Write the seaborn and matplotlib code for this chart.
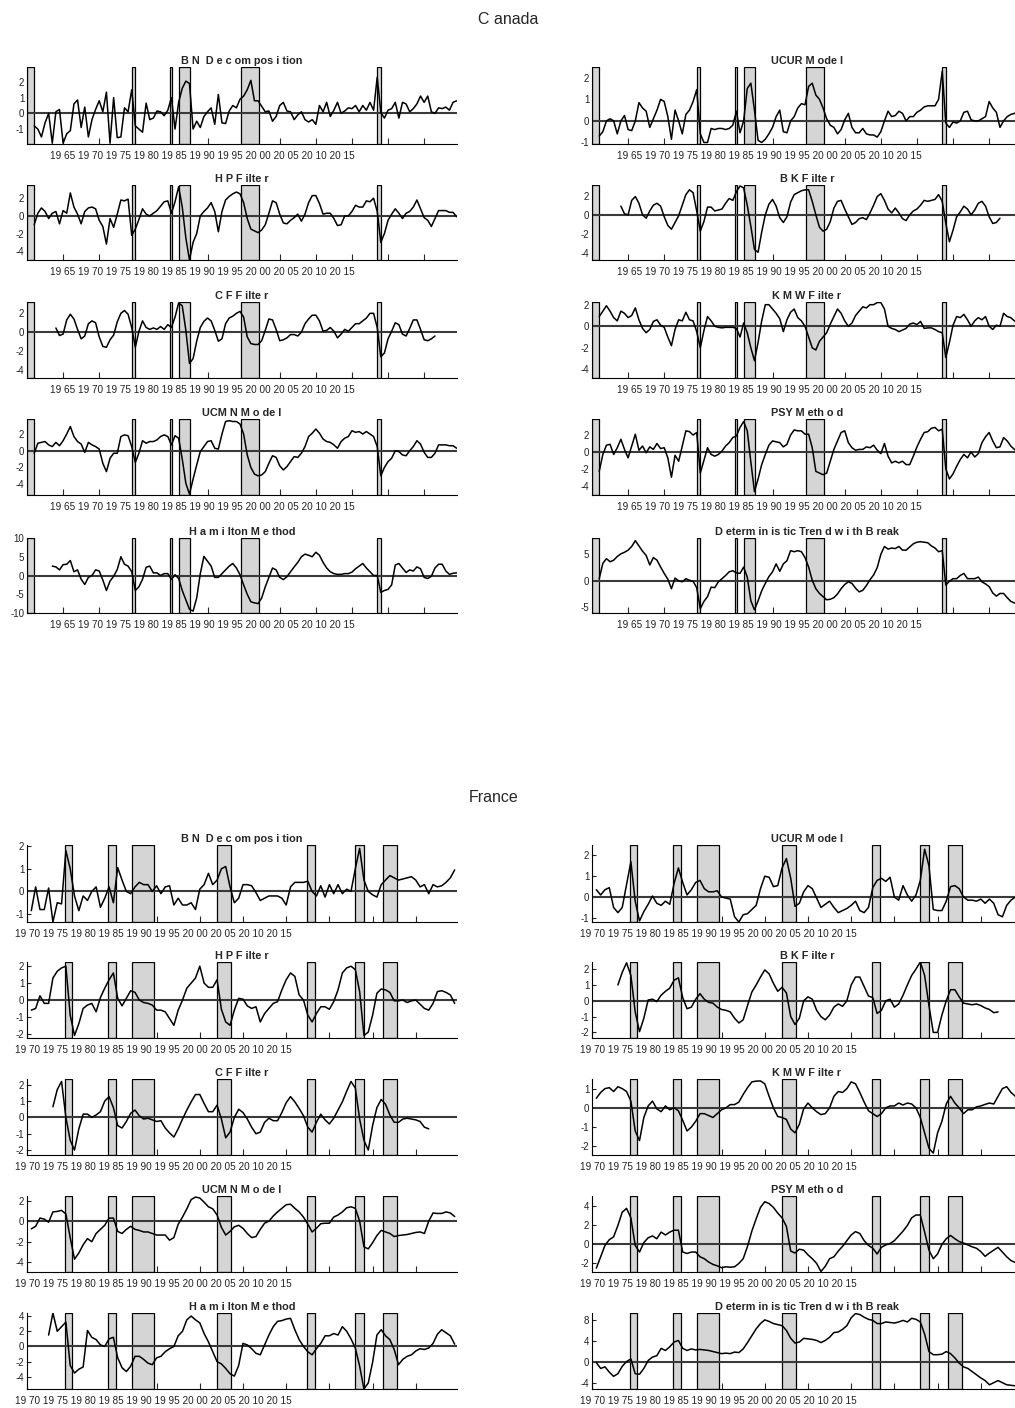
import numpy as np
import pandas as pd
import seaborn as sns
import matplotlib
matplotlib.use('Agg')
import matplotlib.pyplot as plt

nan = np.nan

# half-year grids
ca_years = np.arange(1961.0, 2020.0, 0.5)
fr_years = np.arange(1970.5, 2020.0, 0.5)
ca_ticks = list(range(1965, 2016, 5))
fr_ticks = list(range(1970, 2016, 5))
ca_xtext = '19 65 19 70 19 75 19 80 19 85 19 90 19 95 20 00 20 05 20 10 20 15'
fr_xtext = '19 70 19 75 19 80 19 85 19 90 19 95 20 00 20 05 20 10 20 15'

# recession bands (start, end)
ca_rec = [(1960.0, 1961.0), (1974.6, 1974.9), (1979.8, 1980.1),
          (1981.05, 1982.6), (1989.7, 1992.1), (2008.5, 2009.0)]
fr_rec = [(1974.45, 1975.25), (1979.4, 1980.25), (1982.2, 1984.75),
          (1992.0, 1993.6), (2002.4, 2003.35), (2007.95, 2009.0), (2011.25, 2012.8)]

# ---------------- Canada ----------------
ca_bn = [-0.8, -1.0, -1.5, -0.6, 0.0, -1.9, 0.1, 0.25, -1.9, -1.3,
         -1.1, 0.6, 0.85, -0.9, 0.4, -1.5, -0.4, 0.25, 0.8, 0.1,
         1.35, -1.9, 1.0, -1.55, -1.5, 0.35, 0.1, 1.5, -0.8, -1.0,
         -1.2, 0.65, -0.4, -0.3, 0.15, 0.1, -0.15, 0.2, 1.0, -1.0,
         0.7, 1.6, 2.05, 1.9, -1.0, -0.5, -0.9, -0.2, 0.1, 0.35,
         -0.7, 1.2, -0.6, -0.65, 0.15, 0.5, 0.35, 0.9, 1.1, 1.5,
         2.1, 0.8, 0.8, 0.45, 0.1, 0.15, -0.5, -0.2, 0.5, 0.7,
         0.15, 0.1, -0.4, -0.1, 0.1, -0.4, -0.55, -0.4, -0.7, 0.5,
         0.1, 0.7, -0.2, 0.2, 0.7, 0.0, 0.15, 0.35, 0.3, 0.5,
         0.1, 0.5, 0.2, 0.7, 0.2, 2.3, 0.05, -0.3, 0.2, 0.3,
         0.7, -0.3, 0.7, 0.6, 0.1, 0.3, 0.6, 1.1, 0.7, 1.1,
         0.1, 0.0, 0.35, 0.3, 0.4, 0.2, 0.7, 0.8]

ca_ucur = [-0.7, -0.5, 0.0, 0.1, 0.0, -0.6, 0.0, 0.25, -0.4, -0.45,
           0.0, 0.85, 0.6, 0.45, -0.3, 0.1, 0.5, 1.0, 0.9, 0.2,
           -0.85, 0.5, 0.0, -0.6, 0.3, 0.5, 0.9, 1.45, -0.6, -1.0,
           -1.0, -0.35, -0.4, -0.35, -0.35, -0.4, -0.35, -0.2, 0.45, -0.55,
           0.0, 1.5, 1.75, 0.5, -0.9, -1.0, -0.85, -0.6, -0.3, 0.2,
           0.5, -0.5, -0.55, 0.0, 0.2, 0.6, 0.8, 0.75, 1.6, 1.75,
           1.2, 1.0, 0.6, 0.1, -0.2, -0.3, -0.6, -0.4, 0.05, 0.35,
           -0.3, -0.55, -0.55, -0.35, -0.6, -0.65, -0.65, -0.75, -0.5, 0.0,
           0.45, 0.2, 0.25, 0.45, 0.35, 0.0, 0.2, 0.2, 0.4, 0.5,
           0.65, 0.7, 0.7, 0.7, 1.0, 2.3, -0.1, -0.3, -0.05, -0.1,
           0.0, 0.4, 0.45, 0.05, 0.0, 0.0, 0.1, 0.2, 0.9, 0.6,
           0.4, -0.3, 0.0, 0.2, 0.3, 0.35, 0.4, 0.45]

ca_hp = [-1.0, 0.3, 0.9, 0.5, -0.3, 0.3, 0.5, -0.9, 0.6, 0.3,
         2.6, 1.0, 0.2, -0.9, 0.5, 0.9, 1.0, 0.8, -0.5, -1.2,
         -3.2, -0.3, -1.3, 0.2, 1.8, 1.7, 1.9, -2.2, -1.5, -0.4,
         0.8, 0.2, 0.0, 0.3, 0.6, 1.1, 1.6, 1.7, 0.3, 1.6,
         3.3, 1.0, -2.5, -5.0, -3.0, -2.0, 0.0, 0.5, 0.9, 1.5,
         0.5, -1.8, 0.5, 1.8, 2.2, 2.5, 2.7, 2.5, 1.5, -0.3,
         -1.5, -1.7, -1.9, -1.6, -1.0, 0.3, 1.7, 1.5, 0.2, -0.8,
         -0.9, -0.5, -0.2, 0.2, -0.6, 0.2, 1.5, 2.3, 2.3, 1.4,
         0.2, 0.3, 0.3, -0.3, -1.1, -1.0, 0.0, 0.0, 0.5, 1.2,
         1.0, 1.0, 1.7, 1.6, 2.0, 0.5, -3.0, -2.0, -0.5, 0.2,
         0.8, 0.3, -0.3, 0.3, 0.5, 1.0, 1.8, 0.8, -0.2, -0.5,
         -1.2, -0.3, 0.6, 0.6, 0.6, 0.4, 0.4, -0.1]

ca_bk = [nan] * 6 + [
         0.9, 0.1, 0.0, 1.5,
         1.9, 1.2, 0.0, -0.35, 0.4, 1.0, 1.2, 0.9, -0.2, -1.1,
         -1.5, -0.8, -0.1, 1.0, 2.1, 2.6, 2.3, 0.4, -1.7, -0.7,
         0.8, 0.8, 0.4, 0.5, 0.6, 1.2, 1.7, 1.5, 2.4, 3.0,
         2.8, 1.0, -1.2, -3.6, -3.9, -1.8, 0.0, 1.1, 1.6, 0.9,
         -0.3, -0.8, -0.2, 1.3, 2.1, 2.3, 2.5, 2.6, 2.6, 1.4,
         0.0, -1.3, -1.7, -1.5, -0.7, 0.7, 1.4, 1.5, 0.6, -0.2,
         -1.0, -0.8, -0.4, -0.3, -0.5, 0.2, 1.0, 1.9, 2.2, 1.5,
         0.6, 0.2, 0.7, 0.2, -0.4, -0.6, 0.0, 0.4, 0.6, 1.0,
         1.5, 1.4, 1.5, 1.6, 2.1, 1.4, -0.9, -2.8, -1.6, -0.2,
         0.3, 0.9, 0.6, 0.0, 0.5, 1.2, 1.4, 0.9, -0.2, -0.9,
         -0.8, -0.35] + [nan] * 6

ca_cf = [nan] * 6 + [
         0.45, -0.35, -0.2, 1.3,
         1.9, 1.4, 0.3, -0.7, -0.4, 0.9, 1.2, 1.0, -0.5, -1.5,
         -1.6, -0.8, -0.3, 1.1, 2.0, 2.3, 1.9, 0.5, -1.6, 0.1,
         1.2, 0.5, 0.3, 0.45, 0.3, 0.6, 0.3, 0.8, 0.5, 1.6,
         3.1, 2.8, 0.2, -3.3, -2.8, -0.95, 0.5, 1.15, 1.5, 1.2,
         0.2, -0.95, -0.7, 0.9, 1.5, 1.7, 2.0, 2.2, 1.6, -0.5,
         -1.2, -1.3, -1.3, -0.9, 0.2, 1.4, 1.3, 0.3, -0.9, -0.8,
         -0.6, -0.25, -0.25, -0.4, 0.0, 0.9, 1.4, 1.8, 1.8, 1.2,
         0.1, 0.2, 0.5, 0.1, -0.6, -0.2, 0.3, 0.1, 0.5, 0.9,
         0.9, 1.2, 1.5, 2.0, 2.0, 0.5, -2.6, -2.2, -0.7, 0.1,
         1.0, 0.8, -0.2, -0.4, 0.4, 1.3, 1.3, 0.3, -0.8, -0.9,
         -0.7, -0.4] + [nan] * 6

ca_kmw = [0.9, 1.4, 1.9, 1.4, 0.8, 0.5, 1.4, 1.2, 0.8, 1.0,
          1.7, 0.6, -0.2, -0.6, -0.3, 0.45, 0.6, 0.1, -0.1, -1.0,
          -1.8, -0.3, 0.6, 0.5, 1.3, 0.6, 0.5, -0.5, -2.0, -0.4,
          0.9, 0.5, 0.0, -0.1, -0.15, -0.1, -0.1, -0.1, -0.2, -1.0,
          0.3, -0.6, -2.0, -3.2, -1.5, 0.5, 2.0, 2.0, 1.6, 1.2,
          0.7, -0.5, 0.6, 1.3, 1.6, 0.8, 0.5, 0.0, -1.0, -2.0,
          -2.2, -1.4, -1.0, -0.6, 0.2, 0.9, 1.6, 1.2, 0.5, 0.0,
          0.3, 1.0, 1.4, 1.8, 1.7, 2.0, 2.0, 2.2, 2.2, 1.6,
          0.0, -0.2, -0.3, -0.5, -0.35, -0.2, 0.2, 0.3, 0.15, 0.45,
          -0.2, -0.15, -0.15, -0.3, -0.5, -0.6, -2.9, -1.5, 0.1, 0.9,
          0.8, 1.1, 0.6, 0.0, 0.5, 0.8, 0.6, 0.9, 0.0, -0.3,
          0.1, 0.0, 1.2, 0.9, 0.8, 0.5, 0.3, 0.2]

ca_ucmn = [-0.3, 0.9, 1.0, 1.1, 0.7, 0.5, 1.0, 0.6, 1.2, 2.0,
           2.9, 1.7, 1.1, 0.8, -0.2, 1.0, 0.7, 0.5, 0.2, -1.5,
           -2.5, -0.9, -0.3, -0.3, 1.7, 1.9, 1.8, 0.5, -1.4, -0.3,
           1.2, 0.9, 1.1, 1.1, 1.3, 1.7, 1.9, 1.7, 0.7, 1.8,
           1.5, -1.0, -3.9, -5.2, -3.4, -1.7, -0.1, 0.5, 1.1, 1.2,
           0.3, 0.2, 2.0, 3.5, 3.6, 3.5, 3.5, 3.2, 2.0, -0.5,
           -2.0, -2.8, -3.0, -2.9, -2.5, -1.5, -0.6, -0.8, -1.8, -2.3,
           -1.9, -1.3, -0.7, -0.8, -0.3, 0.5, 1.7, 2.1, 2.6, 2.1,
           1.4, 1.1, 1.0, 0.7, 0.3, 1.1, 1.5, 1.7, 2.4, 2.2,
           2.3, 2.0, 2.3, 2.0, 1.7, 0.5, -3.0, -2.0, -1.3, -0.9,
           0.0, -0.1, -0.5, -0.6, 0.0, 0.5, 1.2, 0.8, -0.2, -0.8,
           -0.8, -0.3, 0.7, 0.7, 0.7, 0.6, 0.6, 0.3]

ca_psy = [-2.3, -0.3, 0.8, 0.9, -0.3, 0.5, 1.5, 0.3, -0.7, 0.7,
          2.1, 0.2, 0.7, -0.1, 0.6, 0.3, 1.0, 0.4, 0.5, -0.7,
          -3.0, -0.4, -1.1, 0.7, 2.5, 2.4, 2.0, 2.3, -2.5, -1.0,
          0.5, -0.3, -0.5, -0.3, 0.1, 0.7, 1.1, 1.7, 1.9, 2.9,
          3.6, 2.5, -1.2, -4.7, -3.2, -1.5, -0.3, 0.8, 1.3, 1.2,
          1.1, 0.6, 0.9, 2.0, 2.6, 2.5, 2.5, 2.1, 2.1, 0.5,
          -2.3, -2.5, -2.7, -2.5, -1.1, 0.3, 1.3, 2.3, 2.5, 1.1,
          0.5, 0.2, 0.3, 0.3, 0.6, 0.5, 0.8, 0.2, -0.2, 1.0,
          -0.5, -1.3, -1.1, -1.3, -1.1, -1.5, -1.5, -0.5, 0.6, 1.5,
          2.3, 2.4, 2.8, 2.9, 2.5, 2.7, -2.0, -3.2, -2.6, -1.7,
          -0.9, -0.3, -0.7, 0.0, -0.6, -0.2, 1.1, 1.8, 2.3, 1.3,
          0.5, 0.6, 1.7, 1.3, 0.7, 0.3, 0.0, -0.2]

ca_ham = [nan] * 5 + [
          2.5, 2.3, 1.5, 2.9, 3.0,
          4.0, 1.0, 1.5, -1.0, -2.4, -0.5, 0.0, 1.5, 1.2, -1.2,
          -4.0, -1.5, -0.2, 1.6, 5.0, 3.0, 2.5, 1.0, -4.0, -3.0,
          -1.0, 2.2, 2.5, 0.7, 0.7, 0.0, 0.5, 0.5, -1.0, 0.2,
          -0.8, -4.0, -6.5, -9.0, -9.5, -6.0, 0.5, 5.1, 3.8, 2.5,
          -0.5, -0.5, 0.5, 1.5, 2.5, 3.2, 2.0, 0.2, -2.5, -5.0,
          -7.0, -7.3, -7.5, -6.0, -3.0, -0.5, 2.0, 1.5, -0.5, -1.1,
          -0.3, 1.0, 2.3, 3.5, 5.0, 5.7, 5.4, 5.0, 6.2, 5.4,
          3.5, 2.0, 1.0, 0.5, 0.3, 0.3, 0.5, 0.5, 0.9, 1.8,
          2.5, 3.2, 2.0, 1.0, 0.0, 0.0, -4.5, -4.0, -3.7, -2.5,
          2.8, 3.2, 2.0, 0.8, 1.5, 1.2, 2.3, 1.8, -0.5, -0.8,
          -0.2, 2.0, 3.0, 3.0, 1.2, 0.3, 0.6, 0.7]

ca_dt = [0.4, 3.3, 4.2, 3.6, 3.9, 4.6, 5.1, 5.4, 5.8, 6.5,
         7.6, 6.6, 5.6, 4.8, 3.0, 4.4, 3.9, 2.6, 1.4, 0.3,
         -1.5, 0.5, 0.0, -0.2, 0.4, 0.1, -0.1, -1.3, -5.3, -3.9,
         -3.0, -1.2, -1.3, -0.2, 0.4, 1.0, 1.7, 1.9, 1.5, 1.4,
         2.6, 0.7, -3.8, -5.5, -3.8, -1.9, -0.5, 0.8, 1.7, 3.2,
         1.8, 3.2, 3.8, 5.7, 5.5, 5.7, 5.5, 4.4, 2.6, 0.1,
         -1.5, -2.4, -3.0, -3.6, -3.5, -3.2, -2.5, -1.5, -0.7, -0.2,
         -0.5, -1.4, -2.1, -1.8, -0.9, 0.2, 1.1, 2.5, 5.0, 6.5,
         6.0, 6.2, 6.1, 6.5, 5.8, 5.8, 6.4, 7.0, 7.3, 7.4,
         7.3, 7.2, 6.6, 6.2, 5.5, 5.7, -0.8, -0.1, 0.4, 0.4,
         1.0, 1.4, 0.4, 0.4, 0.4, 0.7, -0.2, -0.6, -1.1, -2.3,
         -2.9, -2.4, -2.4, -3.2, -3.9, -4.2, -4.3, -4.4]

# ---------------- France ----------------
fr_bn = [-0.85, 0.2, -0.8, -0.8, 0.15, -1.35, -0.5, -0.55, 1.8, 1.0,
         -0.2, -0.85, -0.2, -0.4, 0.0, 0.2, -0.7, -0.3, 0.2, -0.5,
         1.05, 0.5, 0.0, -0.1, 0.2, 0.4, 0.3, 0.3, 0.0, 0.25,
         -0.1, 0.2, 0.25, -0.6, -0.3, -0.6, -0.6, -0.5, -0.8, 0.1,
         0.3, 0.8, 0.3, 0.5, 1.0, 1.1, 0.2, -0.5, -0.3, 0.3,
         0.3, 0.25, -0.05, -0.4, -0.3, -0.2, -0.2, -0.2, -0.3, -0.6,
         0.2, 0.4, 0.4, 0.4, 0.45, 0.0, -0.2, 0.25, -0.25, 0.3,
         -0.1, 0.3, -0.1, 0.1, 0.0, 1.0, 1.9, 0.5, 0.0, -0.15,
         -0.25, 0.3, 0.5, 0.7, 0.6, 0.5, 0.55, 0.6, 0.65, 0.5,
         0.2, 0.3, -0.1, 0.3, 0.2, 0.25, 0.4, 0.6, 0.95]

fr_ucur = [0.35, 0.1, 0.35, 0.45, -0.5, -0.75, -0.5, 0.6, 1.7, -0.2,
           -1.15, -0.7, -0.35, 0.05, -0.3, -0.4, -0.2, -0.35, 0.65, 1.4,
           0.7, 0.1, 0.35, 0.7, 0.8, 0.4, 0.25, 0.25, 0.3, 0.0,
           -0.05, -0.1, -0.95, -1.2, -0.85, -0.8, -0.6, -0.4, 0.4, 1.0,
           0.95, 0.5, 0.55, 1.4, 1.85, 0.9, -0.45, -0.3, 0.25, 0.55,
           0.4, -0.05, -0.5, -0.35, -0.2, -0.5, -0.75, -0.65, -0.55, -0.4,
           -0.2, -0.65, -0.75, -0.5, 0.45, 0.8, 0.9, 0.75, 0.95, 0.0,
           -0.15, 0.55, 0.1, -0.2, 0.1, 0.8, 2.3, 1.5, -0.6, -0.65,
           -0.65, -0.2, 0.5, 0.55, 0.4, 0.0, -0.15, -0.15, -0.2, -0.1,
           -0.3, -0.1, -0.3, -0.85, -0.95, -0.4, -0.15, 0.0, 0.0]

fr_hp = [-0.6, -0.5, 0.25, -0.2, -0.2, 1.3, 1.7, 1.9, 2.0, -0.9,
         -2.1, -1.4, -0.5, -0.3, -0.2, -0.7, 0.15, 0.7, 1.2, 1.6,
         0.1, -0.35, 0.1, 0.55, 0.45, 0.0, -0.15, -0.2, -0.3, -0.6,
         -0.6, -0.7, -1.1, -1.5, -0.6, 0.0, 0.7, 1.0, 1.3, 2.0,
         1.0, 0.75, 0.75, 1.2, -0.55, -1.3, -1.5, -0.6, 0.1, 0.05,
         -0.35, -0.5, -0.4, -1.3, -0.8, -0.5, -0.2, -0.1, 0.6, 1.2,
         1.6, 1.4, 0.3, 0.0, -0.9, -1.3, -0.8, -0.4, -0.4, -0.55,
         -0.1, 0.6, 1.6, 1.9, 2.0, 1.8, 0.5, -2.1, -1.9, -0.9,
         0.4, 0.65, 0.6, 0.45, -0.05, -0.05, 0.0, -0.15, -0.05, 0.0,
         -0.25, -0.5, -0.6, -0.2, 0.5, 0.55, 0.45, 0.3, -0.2]

fr_bk = [nan] * 5 + [
         1.0, 1.8, 2.4, 1.6, -0.7,
         -1.95, -1.1, 0.05, 0.1, -0.05, 0.35, 0.6, 0.8, 1.3, 1.45,
         0.2, -0.5, -0.4, 0.1, 0.45, 0.1, -0.1, -0.15, -0.4, -0.55,
         -0.6, -0.7, -1.1, -1.4, -1.2, -0.3, 0.55, 1.0, 1.5, 1.95,
         1.7, 1.1, 0.6, 0.85, 0.5, -1.0, -1.5, -1.1, 0.0, 0.25,
         0.1, -0.6, -1.0, -1.2, -0.9, -0.4, -0.2, -0.35, 0.0, 1.0,
         1.5, 1.5, 0.9, 0.3, 0.2, -0.8, -0.6, 0.0, 0.1, -0.4,
         -0.2, 0.35, 1.0, 1.6, 2.0, 2.45, 1.6, -0.3, -2.0, -2.0,
         -0.9, 0.0, 0.7, 0.7, 0.25, -0.15, -0.2, -0.25, -0.2, -0.3,
         -0.45, -0.55, -0.75, -0.7] + [nan] * 5

fr_cf = [nan] * 5 + [
         0.65, 1.7, 2.2, 0.0, -1.4,
         -2.0, -0.7, 0.2, 0.2, 0.0, 0.15, 0.35, 1.0, 1.27, 0.6,
         -0.5, -0.65, -0.25, 0.25, 0.45, 0.1, -0.1, -0.05, -0.15, -0.25,
         -0.2, -0.65, -0.95, -1.2, -0.7, -0.1, 0.45, 0.95, 1.4, 1.4,
         0.85, 0.35, 0.35, 0.75, -0.1, -1.25, -0.9, 0.0, 0.5, 0.3,
         -0.1, -0.6, -1.0, -0.9, -0.3, -0.05, -0.2, -0.2, 0.3, 0.9,
         1.27, 0.95, 0.55, 0.1, -0.6, -0.9, -0.3, 0.2, -0.15, -0.4,
         -0.05, 0.45, 0.95, 1.6, 2.2, 1.8, -0.1, -1.4, -2.0, -0.5,
         0.6, 1.1, 0.8, 0.15, -0.3, -0.3, -0.1, -0.05, -0.1, -0.15,
         -0.25, -0.6, -0.7] + [nan] * 6

fr_kmw = [0.5, 0.8, 1.0, 1.05, 0.85, 1.1, 1.0, 0.85, 0.35, -1.2,
          -1.7, -0.5, 0.1, 0.35, -0.05, -0.2, 0.1, -0.1, 0.0, -0.15,
          -0.65, -1.2, -1.0, -0.7, -0.3, -0.3, -0.4, -0.5, -0.3, -0.1,
          0.0, 0.17, 0.17, 0.3, 0.7, 1.05, 1.35, 1.39, 1.4, 1.25,
          0.6, 0.0, -0.45, -0.5, -0.6, -1.1, -1.3, -0.85, -0.05, 0.25,
          0.0, -0.2, -0.35, -0.3, 0.0, 0.6, 0.85, 0.8, 1.0, 1.35,
          1.25, 0.8, 0.3, -0.15, -0.3, -0.45, -0.3, 0.0, 0.1, 0.1,
          0.25, 0.15, 0.25, 0.2, 0.0, -0.5, -1.3, -2.1, -2.35, -1.3,
          -0.7, 0.2, 0.6, 0.25, 0.0, -0.3, -0.1, -0.1, 0.05, 0.1,
          0.18, 0.25, 0.2, 0.6, 1.0, 1.1, 0.8, 0.6, 0.5]

fr_ucmn = [-0.75, -0.5, 0.3, 0.2, -0.1, 0.9, 0.95, 1.05, 0.7, -1.6,
           -3.7, -3.1, -2.3, -1.7, -2.0, -1.2, -0.8, -0.4, 0.3, 0.3,
           -1.0, -1.2, -0.8, -0.5, -0.8, -0.9, -1.05, -1.05, -1.2, -1.35,
           -1.35, -1.35, -1.85, -1.6, -0.3, 0.4, 1.2, 2.1, 2.35, 2.25,
           1.85, 1.4, 1.2, 0.6, -0.6, -1.35, -1.0, -0.55, -0.4, -0.7,
           -1.2, -1.6, -1.5, -0.8, -0.2, 0.0, 0.5, 0.9, 1.25, 1.6,
           1.65, 1.25, 0.9, 0.4, -0.3, -1.05, -0.7, -0.25, -0.2, -0.2,
           0.4, 0.6, 0.9, 1.3, 1.4, 1.25, 0.0, -2.5, -2.7, -2.1,
           -1.4, -0.9, -1.05, -1.2, -1.5, -1.4, -1.35, -1.3, -1.2, -1.1,
           -1.05, -1.2, 0.0, 0.8, 0.75, 0.75, 0.9, 0.8, 0.45]

fr_psy = [-2.5, -1.3, -0.1, 0.5, 0.8, 2.0, 3.4, 3.8, 2.8, -0.1,
          -0.8, 0.2, 0.7, 0.9, 0.6, 1.3, 1.0, 1.3, 1.5, 1.5,
          -0.8, -0.95, -0.8, -0.8, -1.3, -1.5, -1.85, -2.1, -2.25, -2.45,
          -2.35, -2.4, -2.35, -2.0, -1.5, -0.2, 1.4, 2.7, 3.9, 4.5,
          4.3, 3.9, 3.3, 2.8, 1.9, -0.7, -0.9, -0.5, -0.6, -1.1,
          -1.5, -2.0, -2.85, -2.3, -1.5, -1.3, -0.7, -0.2, 0.4, 1.0,
          1.35, 1.15, 0.4, -0.1, -0.4, -1.0, -0.3, -0.05, 0.1, 0.4,
          0.9, 1.4, 2.0, 2.8, 3.1, 3.1, 1.3, -0.6, -1.5, -1.0,
          0.0, 0.6, 0.95, 0.6, 0.3, 0.15, -0.05, -0.25, -0.4, -0.75,
          -1.25, -0.9, -0.6, -0.3, -0.8, -1.3, -1.7, -1.9, -2.0]

fr_ham = [nan] * 4 + [
          1.5, 4.4, 2.0, 2.6, 3.2, -2.5,
          -3.5, -3.0, -2.7, 2.1, 1.2, 0.9, 0.2, 0.0, 1.0, 1.2,
          -1.5, -2.8, -3.3, -2.6, -1.3, -1.3, -1.7, -2.2, -2.4, -1.5,
          -1.3, -0.7, -0.3, 0.0, 1.4, 2.0, 3.5, 4.0, 3.5, 3.1,
          1.7, 0.6, -0.7, -2.0, -2.3, -2.9, -3.6, -3.9, -2.5, 0.4,
          0.2, -0.3, -0.9, -1.1, 0.2, 1.5, 2.6, 3.3, 3.4, 3.6,
          3.7, 2.2, 0.9, 0.0, -0.7, -1.1, -0.3, 0.4, 1.4, 1.4,
          1.7, 1.5, 2.6, 2.0, 1.0, -0.2, -2.6, -5.6, -4.8, -2.1,
          1.5, 2.2, 1.4, 0.9, -0.4, -2.4, -1.7, -1.3, -1.1, -0.6,
          -0.3, -0.4, -0.2, 0.4, 1.6, 2.2, 1.8, 1.4, 0.3]

fr_dt = [-0.1, -1.2, -0.9, -1.9, -2.7, -2.2, -0.8, 0.1, 0.6, -2.2,
         -2.3, -1.2, 0.3, 0.95, 1.2, 2.6, 2.2, 2.9, 3.8, 4.1,
         2.6, 2.2, 2.5, 2.3, 2.4, 2.3, 2.2, 2.0, 1.8, 1.6,
         1.7, 1.6, 1.9, 1.8, 2.5, 3.7, 5.0, 6.3, 7.3, 8.0,
         7.7, 7.3, 7.1, 6.9, 6.0, 4.5, 3.6, 3.8, 4.5, 4.4,
         4.3, 4.1, 3.7, 4.1, 4.7, 5.6, 5.7, 6.2, 6.9, 8.4,
         9.2, 9.0, 8.5, 8.1, 7.9, 7.3, 7.3, 7.6, 7.5, 7.4,
         7.6, 7.9, 7.6, 8.3, 8.1, 7.6, 5.3, 2.0, 1.4, 1.4,
         1.5, 2.0, 1.6, 0.8, -0.2, -0.9, -1.2, -1.8, -2.4, -3.0,
         -3.5, -4.3, -3.9, -3.5, -3.9, -4.3, -4.4, -4.5, -4.5]

# panel order: row by row, left then right
ca_titles = ['B N  D e c om pos i tion', 'UCUR M ode l',
             'H P F ilte r', 'B K F ilte r',
             'C F F ilte r', 'K M W F ilte r',
             'UCM N M o de l', 'PSY M eth o d',
             'H a m i lton M e thod', 'D eterm in is tic Tren d w i th B reak']
fr_titles = ca_titles
ca_series = [ca_bn, ca_ucur, ca_hp, ca_bk, ca_cf, ca_kmw, ca_ucmn, ca_psy, ca_ham, ca_dt]
fr_series = [fr_bn, fr_ucur, fr_hp, fr_bk, fr_cf, fr_kmw, fr_ucmn, fr_psy, fr_ham, fr_dt]
ca_yticks = [[-1, 0, 1, 2], [-1, 0, 1, 2], [-4, -2, 0, 2], [-4, -2, 0, 2], [-4, -2, 0, 2],
             [-4, -2, 0, 2], [-4, -2, 0, 2], [-4, -2, 0, 2], [-10, -5, 0, 5, 10], [-5, 0, 5]]
fr_yticks = [[-1, 0, 1, 2], [-1, 0, 1, 2], [-2, -1, 0, 1, 2], [-2, -1, 0, 1, 2], [-2, -1, 0, 1, 2],
             [-2, -1, 0, 1], [-4, -2, 0, 2], [-2, 0, 2, 4], [-4, -2, 0, 2, 4], [-4, 0, 4, 8]]
ca_ylims = [(-1.95, 2.95), (-1.07, 2.5), (-5.0, 3.5), (-4.7, 3.1), (-4.85, 3.2),
            (-4.8, 2.25), (-5.3, 3.8), (-5.1, 3.9), (-10, 10), (-6.1, 8.1)]
fr_ylims = [(-1.35, 2.05), (-1.2, 2.5), (-2.25, 2.25), (-2.35, 2.45), (-2.3, 2.35),
            (-2.45, 1.5), (-4.95, 2.45), (-2.9, 5.1), (-5.6, 4.4), (-5.1, 9.3)]

for s in ca_series:
    assert len(s) == len(ca_years), len(s)
for s in fr_series:
    assert len(s) == len(fr_years), len(s)

sns.set_style('ticks')
plt.rcParams['font.family'] = ['Liberation Sans', 'DejaVu Sans']

W, H = 1015, 1408
fig = plt.figure(figsize=(W / 100, H / 100), dpi=100)

col_x = [(27, 457), (592, 1022)]
ca_rows = [(67, 144), (185, 260), (302, 378), (419, 495), (538, 613)]
fr_rows = [(845, 922), (962, 1038), (1079, 1155), (1196, 1272), (1313, 1389)]


def fmt(v):
    return '-' + str(abs(v)) if v < 0 else str(v)


def draw_country(rows, years, series, titles, yticks, ylims, rec, xlim, xticks, xtext, xtext_off):
    for i, vals in enumerate(series):
        r, c = divmod(i, 2)
        top, bot = rows[r]
        x0, x1 = col_x[c]
        ax = fig.add_axes([x0 / W, 1 - bot / H, (x1 - x0) / W, (bot - top) / H])
        for a, b in rec:
            ax.axvspan(a, b, facecolor='#d5d5d5', edgecolor='black', lw=0.9, zorder=1)
        ax.axhline(0, color='#3a3a3a', lw=1.5, zorder=2)
        df = pd.DataFrame({'year': years, 'value': vals})
        sns.lineplot(data=df, x='year', y='value', ax=ax, color='black', lw=1.1, zorder=3)
        ax.set_xlim(*xlim)
        ax.set_ylim(*ylims[i])
        ax.set_xticks(xticks)
        ax.set_yticks(yticks[i])
        ax.set_yticklabels([fmt(v) for v in yticks[i]])
        ax.set_xlabel('')
        ax.set_ylabel('')
        ax.tick_params(axis='x', direction='in', length=4, width=0.8, labelbottom=False)
        ax.tick_params(axis='y', direction='in', length=3, width=0.8, labelsize=7,
                       pad=2, labelcolor='#222222')
        sns.despine(ax=ax)
        for sp in ['left', 'bottom']:
            ax.spines[sp].set_linewidth(0.8)
            ax.spines[sp].set_color('black')
        ax.set_title(titles[i], fontsize=7.8, fontweight='bold', pad=2)
        ax.text(xtext_off[c], -0.16, xtext, transform=ax.transAxes, fontsize=7.2,
                ha='left', va='center', color='#222222')


draw_country(ca_rows, ca_years, ca_series, ca_titles, ca_yticks, ca_ylims, ca_rec,
             (1960.0, 2019.55), ca_ticks, ca_xtext, [0.053, 0.058])
draw_country(fr_rows, fr_years, fr_series, fr_titles, fr_yticks, fr_ylims, fr_rec,
             (1970.17, 2019.77), fr_ticks, fr_xtext, [-0.028, -0.028])

fig.text(508 / W, 1 - 20 / H, 'C anada', fontsize=11.5, ha='center', va='center')
fig.text(494 / W, 1 - 798 / H, 'France', fontsize=11.5, ha='center', va='center')

fig.savefig('out.png', dpi=100)
